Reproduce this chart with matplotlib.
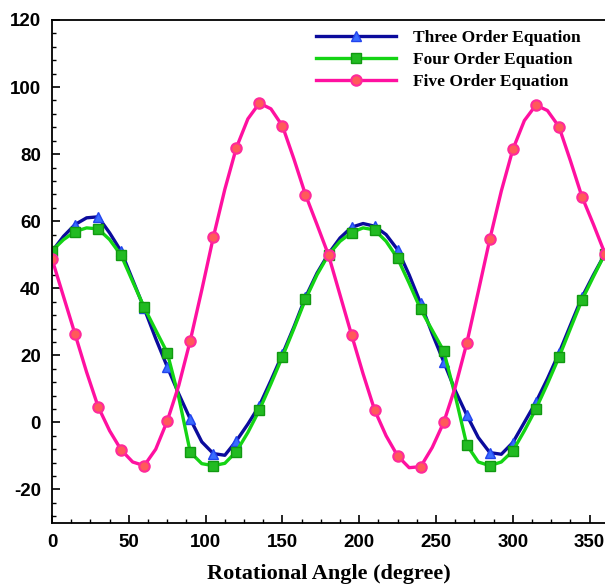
import numpy as np
import matplotlib.pyplot as plt
from matplotlib.ticker import MultipleLocator

plt.rcParams['axes.unicode_minus'] = False

# rotational angle, every 7.5 degree (markers on every 15 degree)
angle = np.arange(0, 360.1, 7.5)

three_order = [51, 55.5, 59, 61, 61.3, 56.5, 51, 42.5, 34, 25, 16.6, 8.5,
               1.0, -5.8, -9.3, -9.8, -5.5, -0.5, 5, 12.5, 20.3, 28.5, 37.3, 44.5,
               50.3, 55, 58.2, 59.3, 58.5, 56, 51.5, 44, 35.5, 26.5, 18.1, 9.5,
               2.2, -4.5, -9.0, -9.5, -6.0, 0, 6.0, 13, 20.6, 29, 37.3, 44,
               50.3]
four_order = [51.2, 54.5, 56.9, 58, 57.7, 54.5, 49.8, 42, 34.3, 27.5, 20.8, 7.5,
              -8.9, -12.3, -12.9, -12.2, -8.7, -3, 3.7, 11.5, 19.6, 28, 36.7, 44,
              50, 54, 56.6, 58, 57.4, 54, 48.9, 41.5, 33.7, 27.5, 21.3, 8,
              -6.7, -11.8, -12.9, -11.8, -8.5, -2.5, 4.0, 11.5, 19.4, 28, 36.5, 43.5,
              50.3]
five_order = [48.7, 37.5, 26.3, 15, 4.7, -2.5, -8.2, -11.8, -12.9, -8, 0.4, 11,
              24.4, 39.5, 55.2, 69.5, 81.9, 90.5, 95.2, 93.5, 88.4, 78.5, 67.9, 59,
              49.9, 38, 26.1, 14.5, 3.7, -4, -10.0, -13.5, -13.2, -7.5, 0.0, 10.5,
              23.6, 39, 54.6, 69, 81.4, 90, 94.6, 93, 88.2, 78, 67.3, 59,
              50.3]

labels = ["Three Order Equation", "Four Order Equation", "Five Order Equation"]

fig = plt.figure(figsize=(6.05, 5.87), dpi=100)
ax = fig.add_axes([0.086, 0.109, 0.914, 0.857])

ax.plot(angle, three_order, color="#0b0b9c", lw=2.4, marker="^", markevery=2,
        ms=7.5, mfc="#3a6cff", mec="#2244ee", label=labels[0])
ax.plot(angle, four_order, color="#14d414", lw=2.4, marker="s", markevery=2,
        ms=7, mfc="#22bb22", mec="#119911", label=labels[1])
ax.plot(angle, five_order, color="#ff10a0", lw=2.4, marker="o", markevery=2,
        ms=7.5, mfc="#ff5a5a", mec="#ff2a9a", mew=1.5, label=labels[2])

ax.set_xlim(0, 360)
ax.set_ylim(-30, 120)
ax.xaxis.set_major_locator(MultipleLocator(50))
ax.xaxis.set_minor_locator(MultipleLocator(12.5))
ax.yaxis.set_major_locator(MultipleLocator(20))
ax.yaxis.set_minor_locator(MultipleLocator(4))
ax.tick_params(which="both", direction="in", top=False, right=False)
ax.tick_params(which="major", length=6, width=1.2)
ax.tick_params(axis="y", which="major", pad=8)
ax.tick_params(axis="x", which="major", pad=8)
ax.tick_params(which="minor", length=3, width=1)
for lab in ax.get_xticklabels() + ax.get_yticklabels():
    lab.set_family("Liberation Sans")
    lab.set_fontweight("bold")
    lab.set_fontsize(13.5)
for s in ax.spines.values():
    s.set_linewidth(1.3)
ax.spines["right"].set_visible(False)

ax.set_xlabel("Rotational Angle (degree)", family="Liberation Serif",
              fontweight="bold", fontsize=16, labelpad=9)

leg = ax.legend(loc="upper right", frameon=False, numpoints=1,
                handlelength=4.6, handletextpad=1.0, bbox_to_anchor=(0.985, 1.012),
                prop={"family": "Liberation Serif", "weight": "bold", "size": 12.5},
                labelspacing=0.35)

fig.savefig("out.png", dpi=100)
